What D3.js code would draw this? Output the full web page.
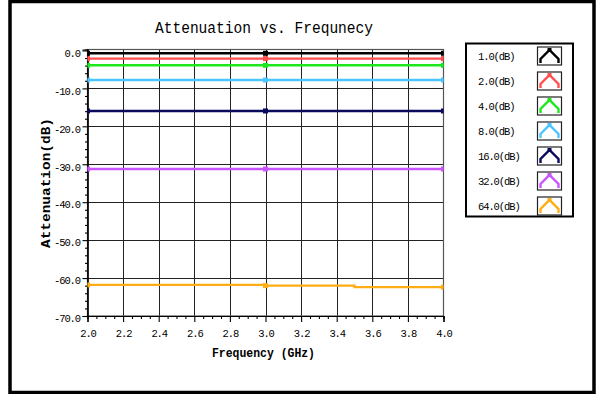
<!DOCTYPE html>
<html><head><meta charset="utf-8">
<script src="https://cdn.jsdelivr.net/npm/d3@7"></script>
<style>
html,body{margin:0;padding:0;background:#fff;}
svg{display:block;}
text{font-family:"Liberation Mono","DejaVu Sans Mono",monospace;fill:#000;}
</style></head>
<body>
<svg id="chart" width="602" height="394"></svg>
<script>
// ---- data ----
const title = "Attenuation vs. Frequnecy";
const xTitle = "Frequency (GHz)";
const yTitle = "Attenuation(dB)";
const freqs = [2.0, 2.5, 3.0, 3.5, 4.0];
const markerFreqs = [2.0, 3.0, 4.0];
const seriesNames = ["1.0(dB)", "2.0(dB)", "4.0(dB)", "8.0(dB)", "16.0(dB)", "32.0(dB)", "64.0(dB)"];
const s1 = [-0.75, -0.75, -0.75, -0.75, -0.75];
const s2 = [-2.15, -2.15, -2.15, -2.15, -2.15];
const s4 = [-3.92, -3.92, -3.92, -3.92, -3.92];
const s8 = [-7.8, -7.8, -7.8, -7.8, -7.8];
const s16 = [-15.95, -15.95, -15.95, -15.95, -15.95];
const s32 = [-31.25, -31.25, -31.25, -31.25, -31.25];
const s64 = [-61.8, -61.8, -62.0, -62.4, -62.4];
const seriesColors = ["#000000", "#ff4f4f", "#1de81d", "#4cc4ff", "#0a0a5c", "#c855ff", "#ffad14"];
const xTicks = [2.0, 2.2, 2.4, 2.6, 2.8, 3.0, 3.2, 3.4, 3.6, 3.8, 4.0];
const yTicks = [0, -10, -20, -30, -40, -50, -60, -70];

const seriesValues = [s1, s2, s4, s8, s16, s32, s64];

const svg = d3.select("#chart");
svg.append("rect").attr("x", 0).attr("y", 0).attr("width", 602).attr("height", 394).attr("fill", "#fff");
// outer frame
svg.append("rect").attr("x", 10).attr("y", 1.5).attr("width", 584).attr("height", 391)
  .attr("fill", "#fff").attr("stroke", "#000").attr("stroke-width", 3.5);

const x = d3.scaleLinear().domain([2, 4]).range([87.5, 443.5]);
const y = d3.scaleLinear().domain([-70, 0.25]).range([316, 49.5]);

// clip
svg.append("clipPath").attr("id", "plotclip").append("rect")
  .attr("x", x(2)).attr("y", y(0.25)).attr("width", x(4) - x(2)).attr("height", y(-70) - y(0.25));

// grid
const grid = svg.append("g");
grid.selectAll("line.vx").data(xTicks.slice(1, -1)).join("line")
  .attr("x1", d => Math.round(x(d)) + 0.5).attr("x2", d => Math.round(x(d)) + 0.5)
  .attr("y1", y(0.25)).attr("y2", y(-70))
  .attr("stroke", "#222").attr("stroke-width", 1);
grid.selectAll("line.hy").data(yTicks.slice(1, -1)).join("line")
  .attr("y1", d => Math.round(y(d)) + 0.5).attr("y2", d => Math.round(y(d)) + 0.5)
  .attr("x1", x(2)).attr("x2", x(4))
  .attr("stroke", "#222").attr("stroke-width", 1);
// plot border
svg.append("rect").attr("x", x(2)).attr("y", y(0.25)).attr("width", x(4) - x(2)).attr("height", y(-70) - y(0.25))
  .attr("fill", "none").attr("stroke", "#555").attr("stroke-width", 1.2);

// axes
const yAxis = d3.axisLeft(y).tickValues(yTicks).tickSize(5).tickPadding(3).tickFormat(d => d.toFixed(1));
const gy = svg.append("g").attr("transform", `translate(${x(2)},0)`).call(yAxis);
const yMinor = d3.range(-70, 0.1, 2).filter(v => v % 10 !== 0);
const gyMinor = svg.append("g").attr("transform", `translate(${x(2)},0)`).call(d3.axisLeft(y).tickValues(yMinor).tickSize(2.5).tickFormat(""));
const xAxis = d3.axisBottom(x).tickValues(xTicks).tickSize(6).tickPadding(5).tickFormat(d => d.toFixed(1));
const gx = svg.append("g").attr("transform", `translate(0,${y(-70)})`).call(xAxis);
const xMinor = d3.range(2, 4.001, 0.05).filter(v => Math.abs(v * 5 - Math.round(v * 5)) > 1e-6);
const gxMinor = svg.append("g").attr("transform", `translate(0,${y(-70)})`).call(d3.axisBottom(x).tickValues(xMinor).tickSize(3).tickFormat(""));
[gy, gyMinor, gx, gxMinor].forEach(g => {
  g.select(".domain").attr("stroke", "#000").attr("stroke-width", 1.2);
  g.selectAll(".tick line").attr("stroke", "#000").attr("stroke-width", 1.1);
  g.selectAll("text").attr("font-family", "Liberation Mono, monospace").attr("font-size", 10.5)
    .attr("letter-spacing", "-1.1px").attr("fill", "#111");
});
gy.selectAll(".tick text").attr("dy", "0.55em").attr("x", -7.5);
gx.selectAll(".tick text").attr("dy", "0.95em");

// lines
const plot = svg.append("g").attr("clip-path", "url(#plotclip)");
const line = d3.line().x(d => x(d[0])).y(d => y(d[1])).curve(d3.curveStepAfter);
seriesValues.forEach((vals, i) => {
  const pts = freqs.map((f, j) => [f, vals[j]]);
  plot.append("path").datum(pts).attr("d", line).attr("fill", "none")
    .attr("stroke", seriesColors[i]).attr("stroke-width", 2.4);
  const mk = markerFreqs.map(f => [f, vals[freqs.indexOf(f)]]);
  plot.selectAll(null).data(mk).join("rect")
    .attr("x", d => x(d[0]) - 2.5).attr("y", d => y(d[1]) - 2.5)
    .attr("width", 5).attr("height", 5).attr("fill", seriesColors[i]);
});

// titles
svg.append("text").attr("x", 264).attr("y", 33).attr("text-anchor", "middle")
  .attr("font-size", 16).attr("textLength", 218).attr("lengthAdjust", "spacingAndGlyphs").text(title);
svg.append("text").attr("x", 263.5).attr("y", 357).attr("text-anchor", "middle")
  .attr("font-size", 12).attr("font-weight", "bold").attr("textLength", 103).attr("lengthAdjust", "spacingAndGlyphs").text(xTitle);
svg.append("text").attr("transform", "translate(50,183) rotate(-90)").attr("text-anchor", "middle")
  .attr("font-size", 12.5).attr("font-weight", "bold").attr("textLength", 130).attr("lengthAdjust", "spacingAndGlyphs").text(yTitle);

// legend
const lg = svg.append("g");
lg.append("rect").attr("x", 466).attr("y", 43.5).attr("width", 107).attr("height", 173)
  .attr("fill", "#fff").attr("stroke", "#000").attr("stroke-width", 2);
const rowY = d3.scalePoint().domain(seriesNames).range([56, 206]);
seriesNames.forEach((name, i) => {
  const cy = rowY(name);
  lg.append("text").attr("x", 478).attr("y", cy + 4).attr("font-size", 10.5)
    .attr("letter-spacing", "-1.1px").attr("fill", "#111").text(name);
  lg.append("rect").attr("x", 537.5).attr("y", cy - 9).attr("width", 24).attr("height", 18)
    .attr("fill", "#fff").attr("stroke", "#222").attr("stroke-width", 1.2);
  const bx = 537.5, by = cy + 7;
  lg.append("path").attr("d", `M${bx + 3},${by} L${bx + 3},${by - 4} L${bx + 12},${by - 13} L${bx + 21},${by - 4} L${bx + 21},${by}`)
    .attr("fill", "none").attr("stroke", seriesColors[i]).attr("stroke-width", 2.4).attr("stroke-linejoin", "miter");
  lg.append("rect").attr("x", bx + 10).attr("y", by - 15).attr("width", 4).attr("height", 4).attr("fill", seriesColors[i]);
});
</script>
</body></html>
